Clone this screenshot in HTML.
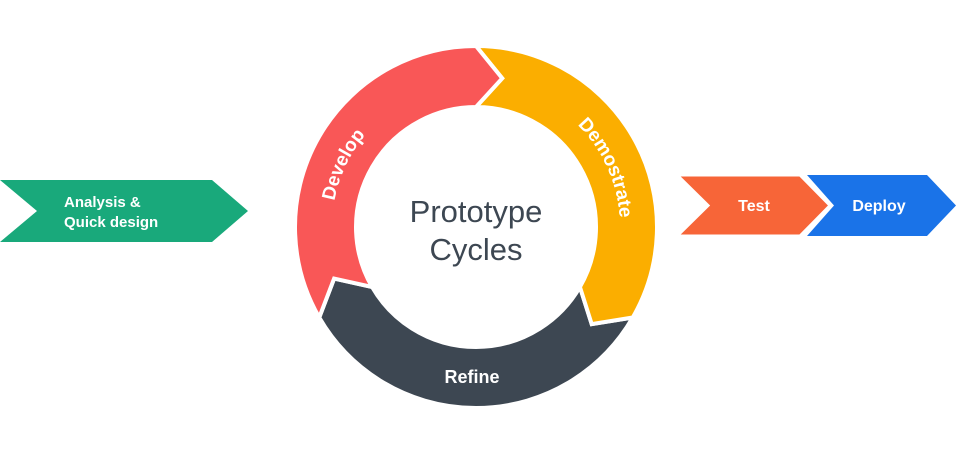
<!DOCTYPE html>
<html><head><style>
html,body{margin:0;padding:0;background:#fff;}
svg{display:block;}
text{font-family:"Liberation Sans",Arial,sans-serif;}
</style></head><body>
<svg width="956" height="476" viewBox="0 0 956 476" xmlns="http://www.w3.org/2000/svg">
<defs>
<path id="arcL" d="M 340.7 276.25 A 144 144 0 0 1 463.45 83.55"/>
<path id="arcR" d="M 476 83 A 144 144 0 0 1 619.45 239.55"/>
</defs>
<polygon points="0,180 212,180 248,211 212,242 0,242 37,211" fill="#19A97B"/>
<text x="64" y="207" font-size="15" font-weight="bold" fill="#fff">Analysis &amp;</text>
<text x="64" y="227" font-size="15" font-weight="bold" fill="#fff">Quick design</text>
<polygon points="807,175 927,175 956,205.5 927,236 807,236 834,205.5" fill="#1A73E8"/>
<polygon points="677,175 800,175 830,205.5 800,236 677,236 708,205.5" fill="#F76538" stroke="#fff" stroke-width="3"/>
<text x="754" y="211" font-size="16" font-weight="bold" fill="#fff" text-anchor="middle">Test</text>
<text x="879" y="211" font-size="16" font-weight="bold" fill="#fff" text-anchor="middle">Deploy</text>
<g stroke="#fff" stroke-width="4" stroke-linejoin="miter">
<path d="M 632.75 317.5 A 181 181 0 0 1 319.25 317.5 L 334.1 278.6 L 372.08 287 A 120 120 0 0 0 579.92 287 L 591.7 324.1 Z" fill="#3D4752"/>
<path d="M 476 46 A 181 181 0 0 1 632.75 317.5 L 591.7 324.1 L 579.92 287 A 120 120 0 0 0 476 107 L 502.2 78.3 Z" fill="#FBAE00"/>
<path d="M 319.25 317.5 A 181 181 0 0 1 476 46 L 502.2 78.3 L 476 107 A 120 120 0 0 0 372.08 287 L 334.1 278.6 Z" fill="#F95757"/>
</g>
<text font-size="19" font-weight="bold" fill="#fff"><textPath href="#arcL" startOffset="43%" text-anchor="middle">Develop</textPath></text>
<text font-size="19" font-weight="bold" fill="#fff"><textPath href="#arcR" startOffset="69%" text-anchor="middle">Demostrate</textPath></text>
<text x="472" y="383" font-size="18" font-weight="bold" fill="#fff" text-anchor="middle">Refine</text>
<text x="476" y="222" font-size="31" fill="#3D4752" text-anchor="middle">Prototype</text>
<text x="476" y="260" font-size="31" fill="#3D4752" text-anchor="middle">Cycles</text>
</svg>
</body></html>
